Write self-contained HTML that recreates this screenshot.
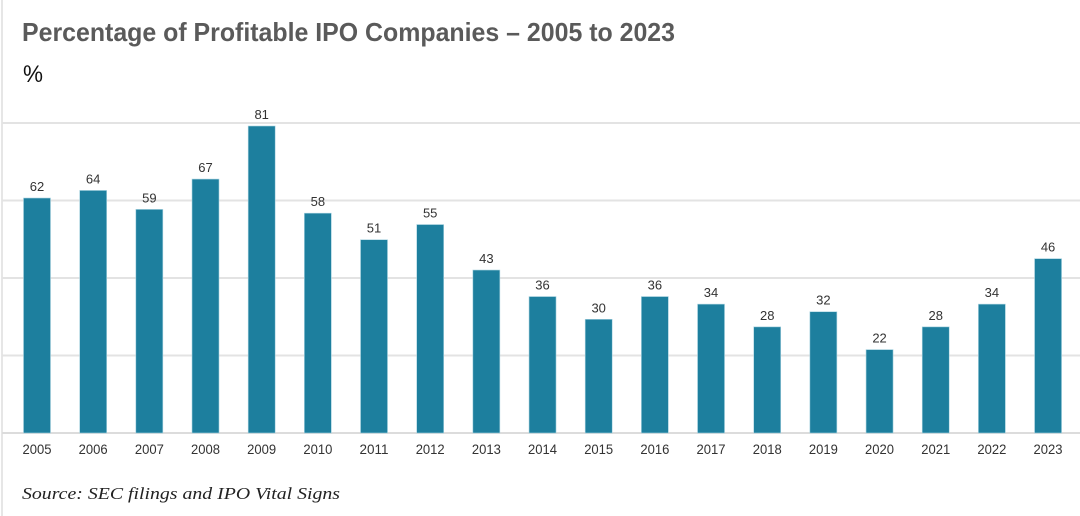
<!DOCTYPE html>
<html><head><meta charset="utf-8"><style>
html,body{margin:0;padding:0;background:#fff;}
svg{display:block;}
text{font-family:"Liberation Sans",sans-serif;}
</style></head><body>
<svg id="chart" width="1080" height="516" viewBox="0 0 1080 516">
<line x1="2" y1="0" x2="2" y2="516" stroke="#e6e6e6" stroke-width="2"/>
<text x="22" y="41" font-size="26" font-weight="bold" fill="#5a5a5a" textLength="653" lengthAdjust="spacingAndGlyphs">Percentage of Profitable IPO Companies – 2005 to 2023</text>
<text x="23" y="82" font-size="24" fill="#111" textLength="20" lengthAdjust="spacingAndGlyphs">%</text>
<g id="grid"></g>
<g id="bars"></g>
<g id="labels"></g>
<text x="22" y="499" font-size="17" font-style="italic" fill="#222" style="font-family:'Liberation Serif',serif" textLength="318" lengthAdjust="spacingAndGlyphs">Source: SEC filings and IPO Vital Signs</text>
</svg>
<script>
const categories = ["2005","2006","2007","2008","2009","2010","2011","2012","2013","2014","2015","2016","2017","2018","2019","2020","2021","2022","2023"];
const values = [62,64,59,67,81,58,51,55,43,36,30,36,34,28,32,22,28,34,46];
const gridValues = [20.45,40.9,61.35,81.8];

const NS="http://www.w3.org/2000/svg";
const baseY=433, pxPerUnit=3.79, x0=37, pitch=56.17, barW=27;
function yScale(v){return baseY - v*pxPerUnit;}
function xScale(i){return x0 + i*pitch;}
function mk(tag,attrs){const e=document.createElementNS(NS,tag);for(const k in attrs)e.setAttribute(k,attrs[k]);return e;}

const grid=document.getElementById('grid');
gridValues.forEach(g=>{
  const l=mk('line',{x1:2,x2:1080,y1:yScale(g),y2:yScale(g),stroke:'#e3e3e3','stroke-width':2});
  
  
  grid.appendChild(l);
});
const base=mk('line',{x1:2,x2:1080,y1:baseY,y2:baseY,stroke:'#dcdcdc','stroke-width':2});


grid.appendChild(base);

const bars=document.getElementById('bars'), labels=document.getElementById('labels');
values.forEach((v,i)=>{
  const cx=xScale(i);
  const r=mk('rect',{x:cx-barW/2,y:yScale(v),width:barW,height:baseY-yScale(v),fill:'#1d7f9e',stroke:'#a9d3e0','stroke-width':0.6});
  
  
  bars.appendChild(r);
  const t=mk('text',{x:cx,y:yScale(v)-7,'text-anchor':'middle','font-size':13,fill:'#333'});
  t.textContent=String(v);
  
  
  labels.appendChild(t);
  const c=mk('text',{x:cx,y:454,'text-anchor':'middle','font-size':14,fill:'#333',textLength:29,lengthAdjust:'spacingAndGlyphs'});
  c.textContent=categories[i];
  
  
  labels.appendChild(c);
});
</script>
</body></html>
